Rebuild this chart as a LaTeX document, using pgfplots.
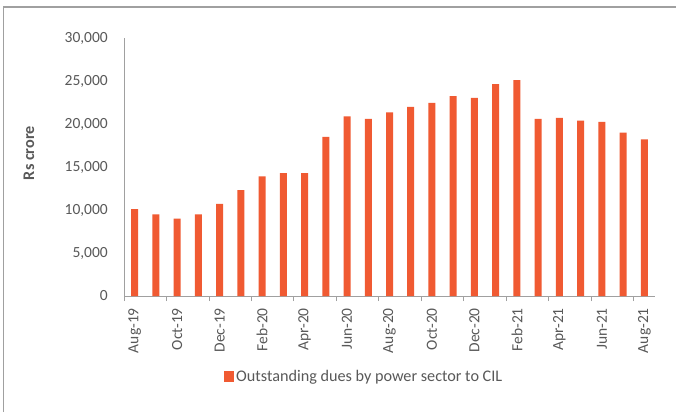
\documentclass[border=0pt]{standalone}
\usepackage{pgfplots}
\pgfplotsset{compat=1.18}
\usepackage{fontspec}
\setmainfont{Carlito}
\definecolor{barc}{HTML}{F05A32}
\definecolor{txt}{HTML}{595959}
\definecolor{axc}{HTML}{A0A0A0}
\newcommand\ff{\fontsize{15.5}{18.6}\selectfont}
\newcommand\fl{\fontsize{16.2}{19.4}\selectfont}
\begin{document}
\begin{tikzpicture}[x=1pt,y=1pt]
\useasboundingbox (0,0) rectangle (676,-412);
\fill[white] (0,0) rectangle (676,-412);
\draw[axc, line width=1.5pt] (3.5,-412) -- (3.5,-7) -- (676,-7);
\begin{axis}[
  at={(124pt,-296pt)}, anchor=south west,
  scale only axis, width=531pt, height=258pt,
  xmin=-0.5, xmax=24.5, ymin=0, ymax=30000,
  axis x line*=bottom, axis y line*=left,
  axis line style={axc, line width=0.9pt, -},
  ytick={0,5000,...,30000},
  scaled y ticks=false,
  yticklabel style={font=\ff, text=txt, anchor=east, inner sep=0pt, xshift=-16pt, /pgf/number format/.cd, 1000 sep={,}, assume math mode=true},
  major tick length=0pt,
  xtick={0,2,...,24},
  xticklabels={Aug-19,Oct-19,Dec-19,Feb-20,Apr-20,Jun-20,Aug-20,Oct-20,Dec-20,Feb-21,Apr-21,Jun-21,Aug-21},
  xticklabel style={font=\ff, text=txt, yshift=-12pt, rotate=90, anchor=east, inner sep=0pt},
  extra x ticks={-0.5,1.5,...,23.5},
  extra x tick labels={},
  extra x tick style={major tick length=5pt, tick align=outside, tick style={axc, line width=0.9pt}},
  ylabel={Rs crore},
  ylabel style={font=\bfseries\fl, text=txt, at={(axis description cs:-0.179,0.554)}, anchor=center},
  ybar, bar width=7pt, bar shift=0pt,
  legend style={at={(0.452,-0.314)}, anchor=center, draw=none, fill=none, font=\fl, text=txt, inner sep=0pt},
  legend image code/.code={\fill[barc] (0pt,-5pt) rectangle (10.5pt,6pt);},
]
\addplot[fill=barc, draw=none] coordinates {
(0,10100) (1,9500) (2,9000) (3,9500) (4,10700) (5,12300) (6,13900) (7,14300) (8,14300) (9,18500)
(10,20900) (11,20600) (12,21350) (13,22000) (14,22450) (15,23250) (16,23050) (17,24650) (18,25100)
(19,20600) (20,20700) (21,20400) (22,20250) (23,19000) (24,18200)};
\addlegendentry{Outstanding dues by power sector to CIL}
\end{axis}
\end{tikzpicture}
\end{document}
